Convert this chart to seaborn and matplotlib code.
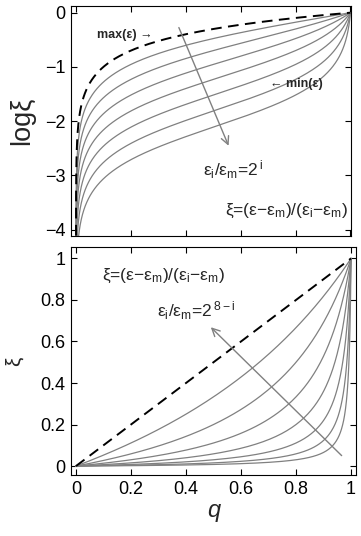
import numpy as np
import pandas as pd
import seaborn as sns
import matplotlib.pyplot as plt

# eps_i / eps_m ratios (1 = the dashed max(eps) curve)
ratios = [1, 2, 4, 8, 16, 32, 64, 128]
q_ticks = [0, 0.2, 0.4, 0.6, 0.8, 1]
q_tick_labels = ["0", "0.2", "0.4", "0.6", "0.8", "1"]
log_ticks = [0, -1, -2, -3, -4]
xi_ticks = [0, 0.2, 0.4, 0.6, 0.8, 1]
xi_tick_labels = ["0", "0.2", "0.4", "0.6", "0.8", "1"]

# sample q densely near both ends
edge = np.geomspace(1e-6, 0.5, 500)
q = np.unique(np.concatenate([edge, 1 - edge, [0.0, 1.0]]))

rows = []
for r in ratios:
    xi = q / (r * (1 - q) + q)
    rows.append(pd.DataFrame({"q": q, "ratio": r, "xi": xi}))
df = pd.concat(rows, ignore_index=True)
df_log = df[df["q"] > 0].copy()
df_log["logxi"] = np.log10(df_log["xi"])

sns.set_theme(style="ticks")
plt.rcParams["font.family"] = ["Liberation Sans", "DejaVu Sans"]
plt.rcParams["mathtext.default"] = "regular"

fig = plt.figure(figsize=(3.61, 5.36), dpi=100)
ax1 = fig.add_axes([71 / 361, 1 - 236 / 536, 280 / 361, 230 / 536])
ax2 = fig.add_axes([71 / 361, 1 - 475 / 536, 285 / 361, 228 / 536])

gray = "#808080"
dash = (0, (5.5, 3.3))

# top panel: log xi
sns.lineplot(data=df_log[df_log["ratio"] > 1], x="q", y="logxi", units="ratio",
             estimator=None, sort=False, color=gray, lw=0.9, ax=ax1)
sns.lineplot(data=df_log[df_log["ratio"] == 1], x="q", y="logxi",
             estimator=None, sort=False, color="black", lw=1.4, linestyle=dash, ax=ax1)
ax1.set_xlim(-0.018, 1.002)
ax1.set_ylim(-4.116, 0.123)
ax1.set_xticks(q_ticks)
ax1.set_xticklabels([])
ax1.set_yticks(log_ticks)
ax1.set_xlabel("")
ax1.set_ylabel("logξ", fontsize=19.5, labelpad=7)

ax1.text(0.077, -0.41, "max(ε) →", fontsize=9, fontweight="bold", ha="left", va="center")
ax1.text(0.708, -1.31, "← min(ε)", fontsize=9, fontweight="bold", ha="left", va="center")
ax1.text(0.463, -2.9, "ε$_i$/ε$_m$=2$^{\\,i}$", fontsize=12.5, ha="left", va="center")
ax1.text(0.544, -3.66, "ξ=(ε−ε$_m$)/(ε$_i$−ε$_m$)", fontsize=12.5, ha="left", va="center")
ax1.annotate("", xy=(0.56, -2.5), xytext=(0.371, -0.227),
             arrowprops=dict(arrowstyle="->", color=gray, lw=1.0, mutation_scale=14))

# bottom panel: xi
sns.lineplot(data=df[df["ratio"] > 1], x="q", y="xi", units="ratio",
             estimator=None, sort=False, color=gray, lw=0.9, ax=ax2)
sns.lineplot(data=df[df["ratio"] == 1], x="q", y="xi",
             estimator=None, sort=False, color="black", lw=1.4, linestyle=dash, ax=ax2)
ax2.set_xlim(-0.018, 1.018)
ax2.set_ylim(-0.043, 1.055)
ax2.set_xticks(q_ticks)
ax2.set_xticklabels(q_tick_labels)
ax2.set_yticks(xi_ticks)
ax2.set_yticklabels(xi_tick_labels)
ax2.set_xlabel("q", fontsize=17, style="italic", labelpad=1)
ax2.set_ylabel("ξ", fontsize=15, labelpad=12)

ax2.text(0.094, 0.916, "ξ=(ε−ε$_m$)/(ε$_i$−ε$_m$)", fontsize=12.5, ha="left", va="center")
ax2.text(0.295, 0.747, "ε$_i$/ε$_m$=2$^{\\,8−i}$", fontsize=12.5, ha="left", va="center")
ax2.annotate("", xy=(0.483, 0.678), xytext=(0.973, 0.041),
             arrowprops=dict(arrowstyle="->", color=gray, lw=1.0, mutation_scale=14))

for ax in (ax1, ax2):
    ax.tick_params(direction="in", top=True, right=True, length=4, width=0.8,
                   labelsize=13, colors="black", pad=4)
    for s in ax.spines.values():
        s.set_color("black")
        s.set_linewidth(0.8)

fig.savefig("out.png", dpi=100)
